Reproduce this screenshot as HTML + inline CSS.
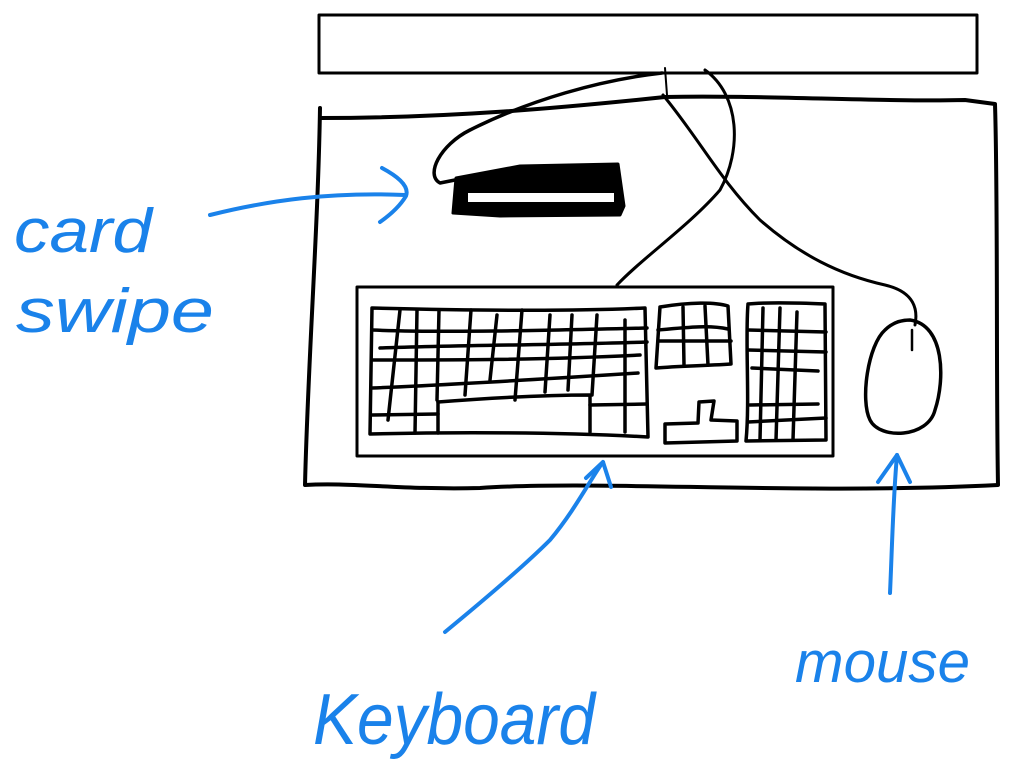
<!DOCTYPE html>
<html><head><meta charset="utf-8"><style>
html,body{margin:0;padding:0;background:#fff;}
svg{display:block;}
</style></head><body>
<svg width="1031" height="765" viewBox="0 0 1031 765" xmlns="http://www.w3.org/2000/svg">
<g fill="none" stroke="#000" stroke-linecap="round" stroke-linejoin="round">
<!-- monitor -->
<rect x="319" y="15" width="658" height="58" stroke-width="3"/>
<!-- desk -->
<path d="M320,118 C450,118 560,108 665,97 C760,95 880,102 965,100 L995,104 C998,200 996,380 998,485 C800,495 600,480 480,488 C400,490 350,482 305,485 C308,360 318,230 320,108" stroke-width="4"/>
<!-- cables -->
<path d="M662,73 C600,80 530,100 470,130 C440,145 425,175 440,183 L455,180" stroke-width="3.5"/>
<path d="M663,95 C700,140 720,180 760,220 C800,255 840,275 885,285 C915,292 918,310 915,325" stroke-width="3"/>
<path d="M705,70 C740,95 742,150 720,190 C690,225 640,260 617,285" stroke-width="3"/>
<path d="M665,68 L667,95" stroke-width="2"/>
<!-- card swipe -->
<path d="M456,178 L520,166 L618,164 L624,206 L620,215 L500,216 L453,213 Z" fill="#000" stroke-width="3"/>
<rect x="468" y="193" width="146" height="9" fill="#fff" stroke="none"/>
<!-- keyboard -->
<rect x="357" y="287" width="476" height="169" stroke-width="3"/>
<g stroke-width="3.5">
<path d="M372,308 C450,310 560,312 645,308 L648,437 C560,432 450,432 370,434 L372,308"/>
<path d="M372,330 C450,333 560,330 647,328"/>
<path d="M380,348 C460,345 560,345 647,342"/>
<path d="M372,388 C450,385 560,378 638,373"/>
<path d="M372,415 L438,414"/>
<path d="M438,402 C490,398 540,395 590,395 L590,432"/>
<path d="M438,402 L438,433"/>
<path d="M590,405 L647,404"/>
<path d="M372,360 C450,360 540,360 640,355"/>
<path d="M400,310 L388,420"/><path d="M417,310 L415,433"/><path d="M439,310 L437,400"/>
<path d="M471,310 L465,395"/><path d="M497,315 L490,380"/><path d="M522,310 L515,400"/>
<path d="M550,315 L545,392"/><path d="M572,315 L568,390"/><path d="M597,315 L592,395"/>
<path d="M625,320 L625,432"/>
<!-- nav cluster -->
<path d="M660,307 C690,302 715,302 728,306 L731,364 C700,366 680,366 656,368 L660,307"/>
<path d="M658,330 C690,327 710,325 728,329"/>
<path d="M658,341 L731,341"/>
<path d="M683,307 L684,365"/><path d="M705,306 L708,365"/>
<!-- arrow cluster -->
<path d="M665,424 L698,423 L699,402 L714,401 L711,420 L737,421 L737,441 L665,443 Z"/>
<!-- numpad -->
<path d="M748,304 C770,302 800,303 825,304 L826,440 L746,441 C750,400 745,340 748,304"/>
<path d="M748,330 L826,332"/><path d="M748,350 L826,352"/><path d="M752,368 L818,371"/>
<path d="M750,405 L818,404"/><path d="M748,422 L826,418"/>
<path d="M763,308 L760,440"/><path d="M780,308 L776,440"/><path d="M797,312 L793,440"/>
</g>
<!-- mouse -->
<path d="M910,320 C945,325 945,380 935,410 C928,438 880,440 870,420 C860,400 868,345 885,330 C893,322 902,320 910,320 Z" stroke-width="3.5"/>
<path d="M912,330 L912,350" stroke-width="2.5"/>
</g>
<!-- blue arrows -->
<g fill="none" stroke="#1a82ea" stroke-width="4" stroke-linecap="round" stroke-linejoin="round">
<path d="M210,215 C270,200 330,192 405,195"/>
<path d="M382,168 C395,175 410,185 406,196 C400,206 390,215 380,222"/>
<path d="M445,632 C490,595 530,560 550,540 C575,510 590,480 603,462"/>
<path d="M586,478 L603,462 L611,487"/>
<path d="M890,593 C892,550 893,500 897,455"/>
<path d="M878,482 L897,455 L910,482"/>
</g>
<g fill="#1a82ea" font-family="'Liberation Sans', sans-serif" font-style="italic">
<text x="14" y="252" font-size="62" textLength="138" lengthAdjust="spacingAndGlyphs">card</text>
<text x="16" y="332" font-size="62" textLength="198" lengthAdjust="spacingAndGlyphs">swipe</text>
<text x="313" y="744" font-size="72" textLength="282" lengthAdjust="spacingAndGlyphs">Keyboard</text>
<text x="795" y="682" font-size="58" textLength="175" lengthAdjust="spacingAndGlyphs">mouse</text>
</g>
</svg>
</body></html>
